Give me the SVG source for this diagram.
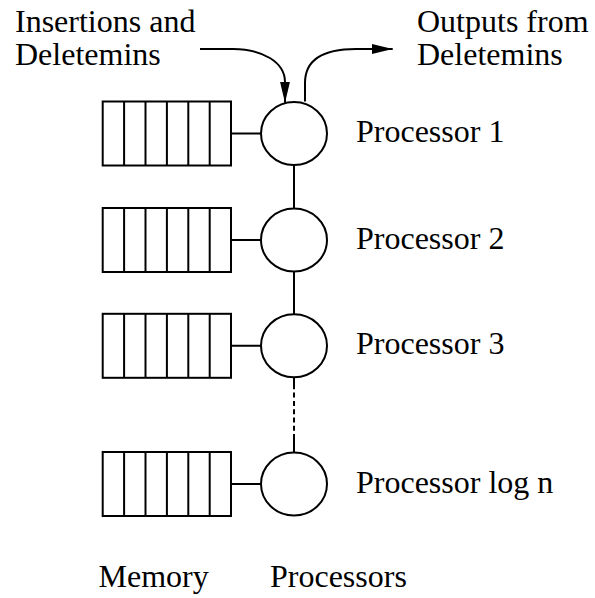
<svg xmlns="http://www.w3.org/2000/svg" width="595" height="598" viewBox="0 0 595 598">
  <style>
    .ln { fill: none; stroke: #000; stroke-width: 2; }
    .proc { fill: #fff; stroke: #000; stroke-width: 2; }
    .mem { fill: #fff; stroke: #000; stroke-width: 2; }
    text { font-size: 32px; fill: #000; }
  </style>
  <defs>
    <marker id="arrow" viewBox="0 0 21 10" refX="21" refY="5" markerWidth="21" markerHeight="10" markerUnits="userSpaceOnUse" orient="auto">
      <path d="M0,0 L21,5 L0,10 Z" fill="#000"/>
    </marker>
    <!-- six-slot memory queue -->
    <g id="queue">
      <rect class="mem" x="0" y="0" width="128.3" height="64"/>
      <path class="ln" d="M21.4,0 V64 M42.8,0 V64 M64.2,0 V64 M85.6,0 V64 M107,0 V64"/>
    </g>
  </defs>

  <rect width="595" height="598" fill="#fff"/>

  <!-- connectors -->
  <g id="connectors">
    <path class="ln" d="M231,133.5 H261 M231,240 H261 M231,345.8 H261 M231,484 H261"/>
    <path class="ln" d="M294,165 V208.5 M294,271.5 V314.3"/>
    <path class="ln" d="M294,377.3 V452.5" stroke-dasharray="12 3.3 5 3.3 5 3.3 5 3.3 5 3.3 5 3.3 20"/>
    <path class="ln" d="M200,49 H233 C262,49 285,62 285,82 L285,102.7" marker-end="url(#arrow)"/>
    <path class="ln" d="M305,101.5 V83 C305,62 320,49 356,49 L392.7,49" marker-end="url(#arrow)"/>
  </g>

  <g id="memory1"><use href="#queue" x="102.7" y="101.5"/></g>
  <g id="memory2"><use href="#queue" x="102.7" y="208"/></g>
  <g id="memory3"><use href="#queue" x="102.7" y="313.8"/></g>
  <g id="memory4"><use href="#queue" x="102.7" y="452"/></g>

  <g font-family="Liberation Serif, Times New Roman, Times, serif">
    <g id="processor1"><ellipse class="proc" cx="294" cy="133.5" rx="33" ry="31.5"/><text x="356" y="142">Processor 1</text></g>
    <g id="processor2"><ellipse class="proc" cx="294" cy="240" rx="33" ry="31.5"/><text x="356" y="248.5">Processor 2</text></g>
    <g id="processor3"><ellipse class="proc" cx="294" cy="345.8" rx="33" ry="31.5"/><text x="356" y="354.3">Processor 3</text></g>
    <g id="processorN"><ellipse class="proc" cx="294" cy="484" rx="33" ry="31.5"/><text x="356" y="493">Processor log n</text></g>

    <g id="input-label">
      <text x="15" y="32">Insertions and</text>
      <text x="15" y="64.5">Deletemins</text>
    </g>
    <g id="output-label">
      <text x="417" y="32">Outputs from</text>
      <text x="417" y="64.5">Deletemins</text>
    </g>

    <g id="column-labels">
      <text x="98.5" y="586.5">Memory</text>
      <text x="270" y="586.5">Processors</text>
    </g>
  </g>
</svg>
